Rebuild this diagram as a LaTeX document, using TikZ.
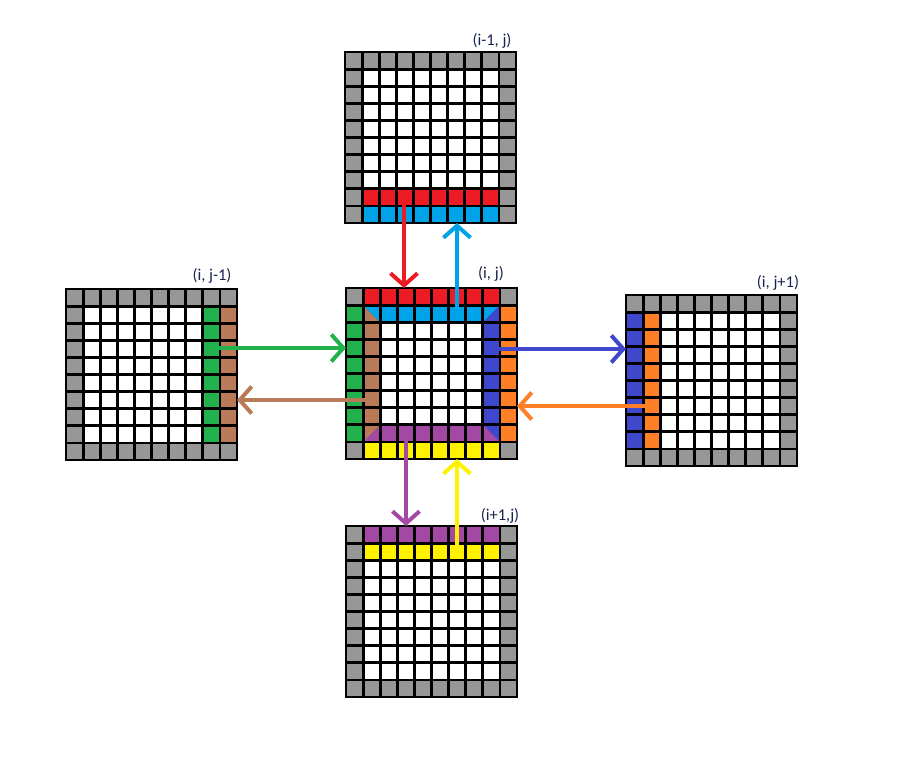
\documentclass[tikz,border=0pt]{standalone}
\usepackage{fontspec}
\setmainfont{Carlito}
\usetikzlibrary{arrows.meta}
\definecolor{cred}{HTML}{ED1C24}
\definecolor{clblue}{HTML}{00A2E8}
\definecolor{cgreen}{HTML}{22B14C}
\definecolor{cbrown}{HTML}{B97A57}
\definecolor{cdblue}{HTML}{3F48CC}
\definecolor{corange}{HTML}{FF7F27}
\definecolor{cpurple}{HTML}{A349A4}
\definecolor{cyellow}{HTML}{FFF200}
\definecolor{cgray}{HTML}{979797}
\definecolor{ctext}{HTML}{1A2450}
\newcommand{\cs}{17.1}
\newcommand{\gcell}[3]{\fill[#3] ({\gx+#1*\cs},{\gy+#2*\cs}) rectangle ++(\cs,\cs);}
\newcommand{\gbase}{%
  \fill[cgray] (\gx,\gy) rectangle ++({10*\cs},{10*\cs});
  \fill[white] ({\gx+\cs},{\gy+\cs}) rectangle ++({8*\cs},{8*\cs});}
\newcommand{\glines}{%
  \foreach \k in {0,...,10}{%
    \draw[gline] ({\gx+\k*\cs},\gy) -- ({\gx+\k*\cs},{\gy+10*\cs});
    \draw[gline] (\gx,{\gy+\k*\cs}) -- ({\gx+10*\cs},{\gy+\k*\cs});}}
\newcommand{\gtri}[4]{\begin{scope}[shift={({\gx+#1*\cs},{\gy+#2*\cs})}]\fill[#3] #4;\end{scope}}
\begin{document}
\begin{tikzpicture}[x=1pt,y=-1pt,
  gline/.style={line width=2.8pt,black,line cap=rect},
  lab/.style={text=ctext,font=\fontsize{16.5}{19}\selectfont,inner sep=0pt},
  arr/.style={line width=4pt,-{Straight Barb[length=12pt,width=27pt]}}]
\useasboundingbox (0,0) rectangle (908,761);
% ---------- top grid (i-1, j)
\def\gx{345}\def\gy{52}
\gbase
\foreach \c in {1,...,8}{\gcell{\c}{8}{cred}\gcell{\c}{9}{clblue}}
\glines
% ---------- left grid (i, j-1)
\def\gx{66}\def\gy{289}
\gbase
\foreach \r in {1,...,8}{\gcell{8}{\r}{cgreen}\gcell{9}{\r}{cbrown}}
\glines
% ---------- right grid (i, j+1)
\def\gx{626}\def\gy{295}
\gbase
\foreach \r in {1,...,8}{\gcell{0}{\r}{cdblue}\gcell{1}{\r}{corange}}
\glines
% ---------- bottom grid (i+1, j)
\def\gx{346}\def\gy{526}
\gbase
\foreach \c in {1,...,8}{\gcell{\c}{0}{cpurple}\gcell{\c}{1}{cyellow}}
\glines
% ---------- center grid (i, j)
\def\gx{346}\def\gy{288}
\gbase
\foreach \c in {1,...,8}{\gcell{\c}{0}{cred}\gcell{\c}{9}{cyellow}\gcell{\c}{1}{clblue}\gcell{\c}{8}{cpurple}}
\foreach \r in {1,...,8}{\gcell{0}{\r}{cgreen}\gcell{9}{\r}{corange}}
\foreach \r in {2,...,7}{\gcell{1}{\r}{cbrown}\gcell{8}{\r}{cdblue}}
\gtri{1}{1}{cbrown}{(0,0) -- (0,\cs) -- (\cs,\cs) -- cycle}
\gtri{1}{1}{clblue}{(0,0) -- (\cs,0) -- (\cs,\cs) -- cycle}
\gtri{8}{1}{clblue}{(0,0) -- (\cs,0) -- (0,\cs) -- cycle}
\gtri{8}{1}{cdblue}{(\cs,0) -- (\cs,\cs) -- (0,\cs) -- cycle}
\gtri{1}{8}{cbrown}{(0,0) -- (\cs,0) -- (0,\cs) -- cycle}
\gtri{1}{8}{cpurple}{(\cs,0) -- (\cs,\cs) -- (0,\cs) -- cycle}
\gtri{8}{8}{cdblue}{(0,0) -- (\cs,0) -- (\cs,\cs) -- cycle}
\gtri{8}{8}{cpurple}{(0,0) -- (0,\cs) -- (\cs,\cs) -- cycle}
\glines
% ---------- labels
\node[lab] (ltop) at (492,41) {(i-1, j)};
\node[lab] (lctr) at (491,274) {(i, j)};
\node[lab] (llft) at (212,276) {(i, j-1)};
\node[lab] (lrgt) at (778,283) {(i, j+1)};
\node[lab] (lbot) at (500,516) {(i+1,j)};
% ---------- arrow end points
\coordinate (rs) at (404,199); \coordinate (re) at (404,288);
\coordinate (bs) at (457,313); \coordinate (be) at (457,223);
\coordinate (gs) at (211,348); \coordinate (ge) at (346,348);
\coordinate (ns) at (371,400); \coordinate (ne) at (237,400);
\coordinate (ds) at (490,349); \coordinate (de) at (626,349);
\coordinate (os) at (653,406); \coordinate (oe) at (517,406);
\coordinate (ps) at (406,433); \coordinate (pe) at (406,526);
\coordinate (ys) at (457,551); \coordinate (ye) at (457,459);
% ---------- arrows
\draw[arr,cred] (rs) -- (re);
\draw[arr,clblue] (bs) -- (be);
\draw[arr,cgreen] (gs) -- (ge);
\draw[arr,cbrown] (ns) -- (ne);
\draw[arr,cdblue] (ds) -- (de);
\draw[arr,corange] (os) -- (oe);
\draw[arr,cpurple] (ps) -- (pe);
\draw[arr,cyellow] (ys) -- (ye);
\end{tikzpicture}
\end{document}
